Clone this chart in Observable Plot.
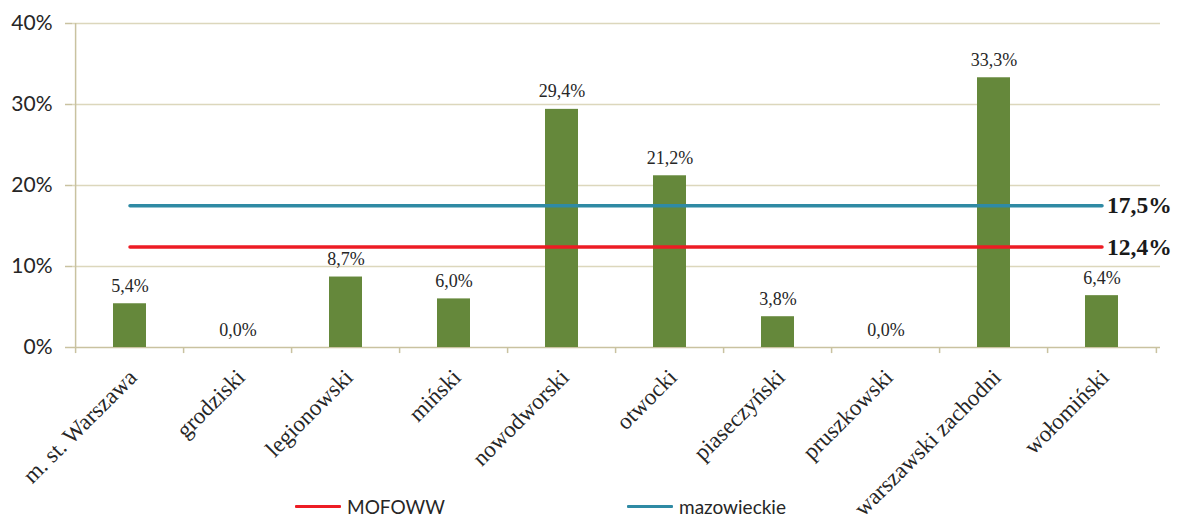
<!DOCTYPE html>
<html>
<head>
<meta charset="utf-8">
<script src="https://cdn.jsdelivr.net/npm/d3@7"></script>
<script src="https://cdn.jsdelivr.net/npm/@observablehq/plot@0.6"></script>
<style>
  body { margin: 0; background: #fff; }
  #wrap { position: relative; width: 1177px; height: 518px; overflow: hidden; }
  #wrap svg { overflow: visible; position: absolute; left: 0; top: 0; }
  .legend { position: absolute; top: 494px; left: 0; width: 1177px; height: 24px; font-family: Lato, "Open Sans", sans-serif; font-size: 19px; color: #262626; }
  .item { position: absolute; top: 0; display: flex; align-items: center; height: 24px; }
  .swatch { width: 46px; height: 3px; margin-right: 6px; border-radius: 1px; }
</style>
</head>
<body>
<div id="wrap"></div>
<script>
const categories = ["m. st. Warszawa", "grodziski", "legionowski", "miński", "nowodworski", "otwocki", "piaseczyński", "pruszkowski", "warszawski zachodni", "wołomiński"];
const values = [5.4, 0.0, 8.7, 6.0, 29.4, 21.2, 3.8, 0.0, 33.3, 6.4];
const refNames = ["MOFOWW", "mazowieckie"];
const refValues = [12.4, 17.5];
const refColors = ["#ED1C24", "#2F8AA4"];
const yTicks = [0, 10, 20, 30, 40];

const W = 1177, H = 518;
const mL = 72, mR = 17, mT = 23, mB = 171;
const bw = (W - mL - mR) / categories.length;
const fmt = v => v.toFixed(1).replace(".", ",") + "%";
const barData = categories.map((c, i) => ({c, v: values[i]}));
const refData = refNames.flatMap((n, i) => [
  {name: n, c: categories[0], v: refValues[i]},
  {name: n, c: categories[categories.length - 1], v: refValues[i]}
]);
const tan = "#C9C2A0";
const serif = "'Liberation Serif', 'Times New Roman', serif";

const chart = Plot.plot({
  width: W, height: H,
  marginLeft: mL, marginRight: mR, marginTop: mT, marginBottom: mB,
  x: {domain: categories, paddingInner: 0.69, paddingOuter: 0.345, align: 0.5, axis: null, label: null},
  y: {domain: [0, 40], axis: null, label: null},
  color: {domain: refNames, range: refColors},
  style: {background: "transparent"},
  marks: [
    Plot.ruleY(yTicks.filter(t => t > 0), {stroke: "#DCD7BC", strokeWidth: 1.5}),
    Plot.axisY({ticks: yTicks, tickFormat: d => d + "%", tickSize: 7, tickPadding: 13, stroke: tan, strokeWidth: 1.5, strokeOpacity: 1, fontSize: 21, fontFamily: "Lato, sans-serif", fill: "#262626", anchor: "left", label: null}),
    Plot.ruleX([categories[0]], {dx: -bw / 2, y1: 0, y2: 40, stroke: tan, strokeWidth: 1.5}),
    Plot.ruleY([0], {stroke: tan, strokeWidth: 1.5}),
    Plot.ruleX(categories, {dx: -bw / 2, y1: 0, y2: -0.75, stroke: tan, strokeWidth: 1.5}),
    Plot.ruleX([categories[categories.length - 1]], {dx: bw / 2, y1: 0, y2: -0.75, stroke: tan, strokeWidth: 1.5}),
    Plot.barY(barData, {x: "c", y: "v", fill: "#65883B"}),
    Plot.text(barData, {x: "c", y: "v", text: d => fmt(d.v), dy: -12, lineAnchor: "bottom", fontSize: 18, fontFamily: serif, fill: "#262626"}),
    Plot.line(refData, {x: "c", y: "v", z: "name", stroke: "name", strokeWidth: 3.5}),
    Plot.text(refNames.map((n, i) => ({n, v: refValues[i]})), {x: () => categories[categories.length - 1], y: "v", text: d => fmt(d.v), textAnchor: "start", dx: 5, fontSize: 23.5, fontWeight: "bold", fontFamily: serif, fill: "#1a1a1a"}),
    Plot.axisX({tickSize: 0, tickRotate: -45, tickPadding: 26, dx: 3, fontSize: 23, fontFamily: serif, fill: "#262626", label: null})
  ]
});
const wrap = document.getElementById("wrap");
wrap.appendChild(chart);

const legend = document.createElement("div");
legend.className = "legend";
const lefts = [295, 627];
refNames.forEach((n, i) => {
  const it = document.createElement("div");
  it.className = "item";
  it.style.left = lefts[i] + "px";
  it.innerHTML = `<div class="swatch" style="background:${refColors[i]}"></div><span>${n}</span>`;
  legend.appendChild(it);
});
wrap.appendChild(legend);
</script>
</body>
</html>
